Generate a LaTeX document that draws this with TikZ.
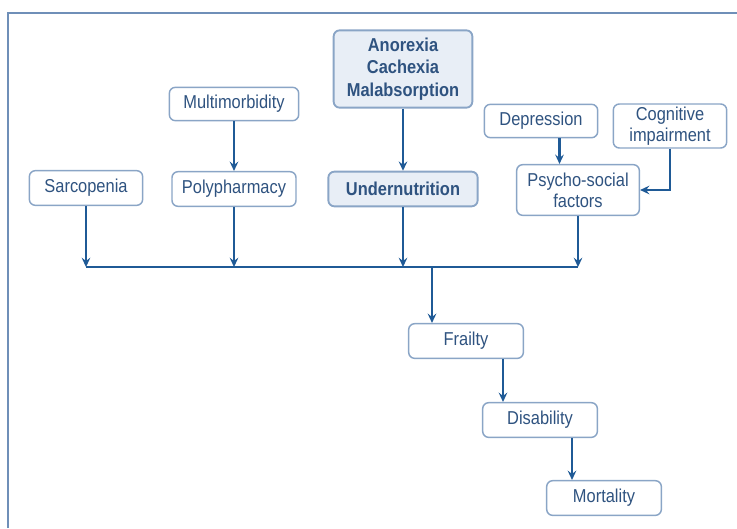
\documentclass[tikz,border=0pt]{standalone}
\usepackage{fontspec}
\setmainfont{Liberation Sans}[FakeStretch=0.88]
\usetikzlibrary{calc,arrows.meta}
\definecolor{boxline}{HTML}{8AA5C6}
\definecolor{boxfill}{HTML}{E8EEF6}
\definecolor{arrowblue}{HTML}{1F5A96}
\definecolor{txtblue}{HTML}{2F5380}
\definecolor{framecol}{HTML}{6F8FB8}
\begin{document}
\begin{tikzpicture}[x=0.75pt, y=-0.75pt, every node/.style={font=\fontsize{14}{15.5}\selectfont, text=txtblue, align=center},
  factor/.style={draw=boxline, line width=1.1pt, rounded corners=4.5pt, fill=white, inner sep=0pt},
  cause/.style={factor, fill=boxfill, line width=1.4pt, font=\fontsize{14}{17}\selectfont\bfseries},
  arr/.style={-{Stealth[length=7pt, width=6.5pt, inset=2.5pt]}, draw=arrowblue, line width=1.6pt},
  bus/.style={draw=arrowblue, line width=1.6pt} ]

\useasboundingbox (0,0) rectangle (737,528);

% Frame
\draw[framecol, line width=1.2pt] (8,528) -- (8,13) -- (737,13);

% Top row
\node[cause, minimum width=104pt, minimum height=58pt] (anor) at (403,69) {Anorexia\\ Cachexia\\ Malabsorption};
\node[factor, minimum width=97pt, minimum height=25pt] (mult) at (234,104) {Multimorbidity};
\node[factor, minimum width=85pt, minimum height=25pt] (dep) at (541,121) {Depression};
\node[factor, minimum width=85pt, minimum height=33pt] (cog) at (670,126) {Cognitive\\ impairment};

% Second row
\node[factor, minimum width=85pt, minimum height=26pt] (sarc) at (86,188) {Sarcopenia};
\node[factor, minimum width=93pt, minimum height=26pt] (poly) at (234,189) {Polypharmacy};
\node[cause, minimum width=112pt, minimum height=26pt] (under) at (403,189) {Undernutrition};
\node[factor, minimum width=92pt, minimum height=38pt] (psy) at (578,190) {Psycho-social\\ factors};

% Outcomes
\node[factor, minimum width=86pt, minimum height=26pt] (frail) at (466,341) {Frailty};
\node[factor, minimum width=86pt, minimum height=26pt] (dis) at (540,420) {Disability};
\node[factor, minimum width=86pt, minimum height=26pt] (mort) at (604,498) {Mortality};

% Junction points
\coordinate (busy) at (0,267);
\coordinate (split) at (432,267);

% Feeding arrows
\draw[arr] (mult) -- (poly);
\draw[arr] (anor) -- (under);
\coordinate (dp) at ($(dep.south)!.5!(psy.north)$);
\draw[arr] (dp |- dep.south) -- (dp |- psy.north);
\draw[arr] (cog.south) |- (psy.east);

% Into the bus
\foreach \n in {sarc,poly,under,psy} \draw[arr] (\n) -- (\n |- busy);
\draw[bus] (sarc |- busy) -- (psy |- busy);

% Down the chain
\draw[arr] (split) -- (split |- frail.north);
\coordinate (fd) at ($(frail.south)!.5!(dis.north)$);
\draw[arr] (fd |- frail.south) -- (fd |- dis.north);
\coordinate (dm) at ($(dis.south)!.5!(mort.north)$);
\draw[arr] (dm |- dis.south) -- (dm |- mort.north);

\end{tikzpicture}
\end{document}
